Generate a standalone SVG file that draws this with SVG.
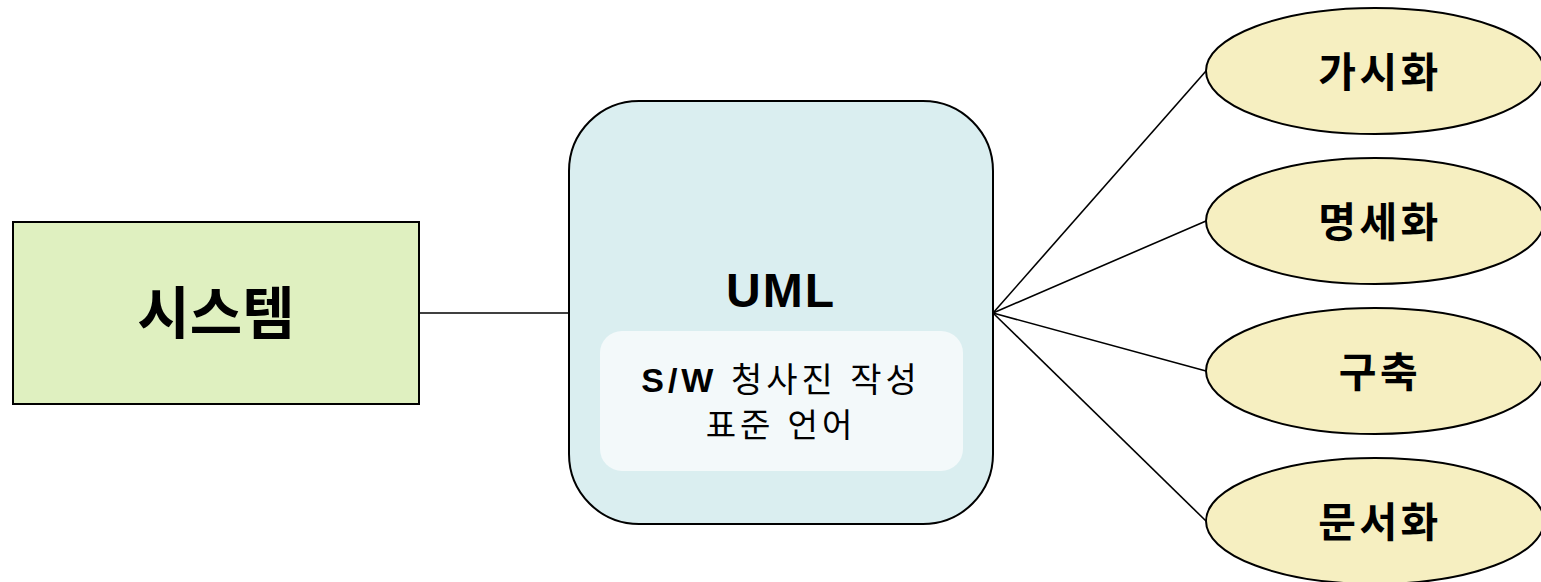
<svg xmlns="http://www.w3.org/2000/svg" width="1541" height="582" viewBox="0 0 1541 582">
<style>
.ln{stroke:#000;stroke-width:1.6;fill:none}
.el{fill:#f6efc1;stroke:#000;stroke-width:2}
.t{font-family:"Liberation Sans","Noto Sans CJK KR",sans-serif;text-anchor:middle;fill:#000}
.b{font-weight:bold}
.et{font-size:41px;letter-spacing:3.5px;font-weight:bold}
</style>
<rect width="1541" height="582" fill="#fff"/>
<g id="connectors">
<line class="ln" x1="419" y1="313" x2="569" y2="313"/>
<line class="ln" x1="993" y1="313" x2="1206" y2="71"/>
<line class="ln" x1="993" y1="313" x2="1206" y2="221"/>
<line class="ln" x1="993" y1="313" x2="1206" y2="371"/>
<line class="ln" x1="993" y1="313" x2="1206" y2="521"/>
</g>
<g id="system">
<rect x="13" y="222" width="406" height="182" fill="#dff0c0" stroke="#000" stroke-width="2"/>
<text class="t b" x="216" y="334" font-size="57">시스템</text>
</g>
<g id="uml">
<rect x="569" y="101" width="424" height="423" rx="70" ry="70" fill="#daeef0" stroke="#000" stroke-width="2"/>
<text class="t b" x="781" y="307" font-size="48" letter-spacing="2">UML</text>
<rect x="600" y="331" width="363" height="140" rx="22" ry="22" fill="#f3f9fa"/>
<text class="t" x="781" y="392" font-size="34" letter-spacing="4"><tspan font-weight="bold">S/W</tspan> 청사진 작성</text>
<text class="t" x="781" y="437" font-size="33" letter-spacing="4">표준 언어</text>
</g>
<g id="visualize">
<ellipse class="el" cx="1375" cy="71" rx="169" ry="63"/>
<text class="t et" x="1380" y="87">가시화</text>
</g>
<g id="specify">
<ellipse class="el" cx="1375" cy="221" rx="169" ry="63"/>
<text class="t et" x="1380" y="237">명세화</text>
</g>
<g id="construct">
<ellipse class="el" cx="1375" cy="371" rx="169" ry="63"/>
<text class="t et" x="1380" y="387">구축</text>
</g>
<g id="document">
<ellipse class="el" cx="1375" cy="521" rx="169" ry="63"/>
<text class="t et" x="1380" y="537">문서화</text>
</g>
</svg>
